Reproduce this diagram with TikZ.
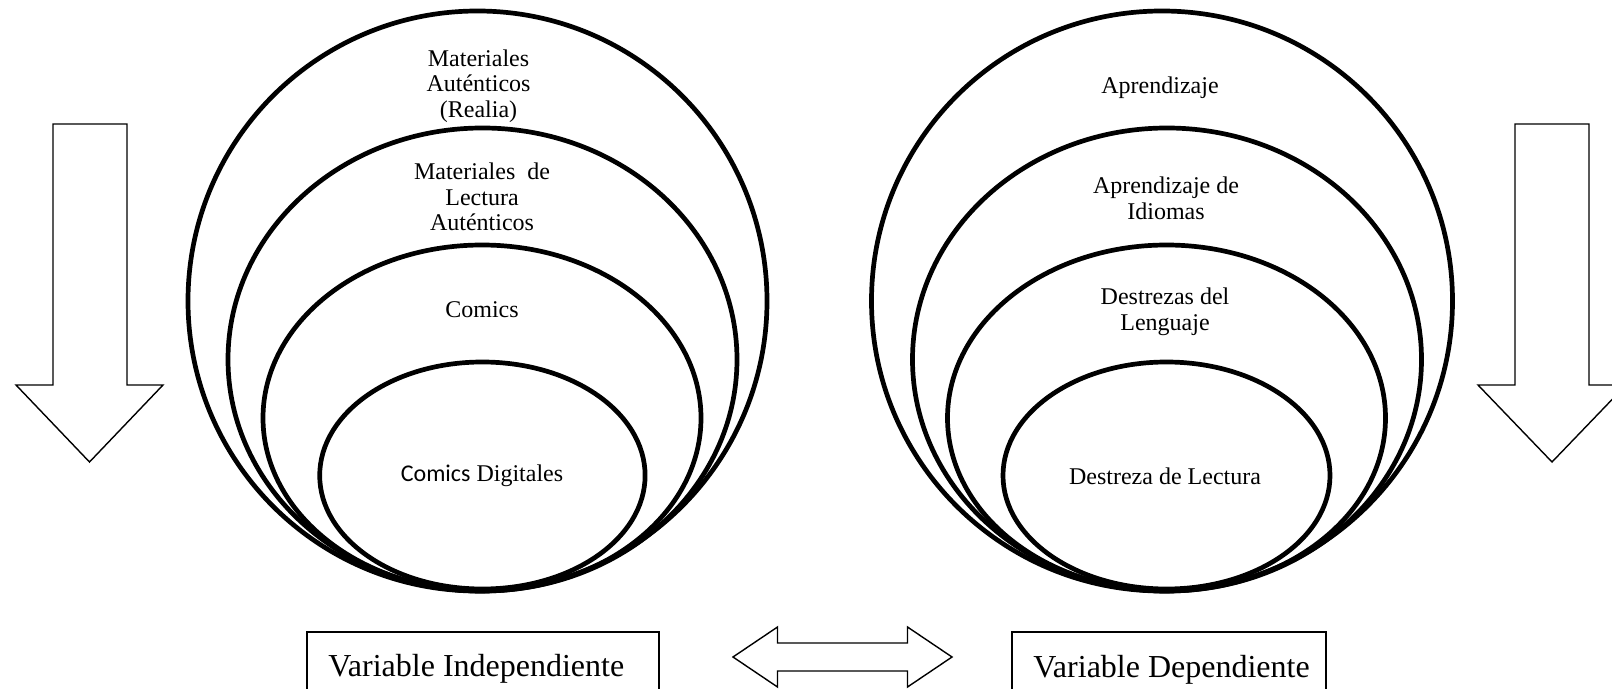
\documentclass[tikz,border=0pt]{standalone}
\usepackage{fontspec}
\setmainfont{Liberation Serif}
\newfontfamily\calib{Carlito}
\begin{document}
\begin{tikzpicture}[x=0.5pt,y=-0.5pt,
  ring/.style={line width=2.35pt},
  lbl/.style={font=\fontsize{12}{12.8}\selectfont, align=center, inner sep=0pt},
  blockarrow/.style={draw, line width=0.7pt, line join=miter, fill=white},
  varbox/.style={draw, line width=0.7pt},
  vartext/.style={font=\fontsize{16}{19}\selectfont, inner sep=0pt, anchor=base west}]
\useasboundingbox (0,0) rectangle (1612,689);
\clip (0,0) rectangle (1612,689);

% left nested ellipses
\draw[ring] (477.5,301) ellipse [x radius=289.5, y radius=290];
\draw[ring] (482.5,359.5) ellipse [x radius=254.5, y radius=231.5];
\draw[ring] (482,418) ellipse [x radius=219, y radius=173];
\draw[ring] (482.4,475.5) ellipse [x radius=162.7, y radius=113.5];

% right nested ellipses
\draw[ring] (1162,301) ellipse [x radius=290.5, y radius=290];
\draw[ring] (1167,359.5) ellipse [x radius=254.5, y radius=231.5];
\draw[ring] (1166.5,418) ellipse [x radius=219, y radius=173];
\draw[ring] (1166.5,475.5) ellipse [x radius=163.5, y radius=113.5];

% left labels
\node[lbl] (l1) at (478.5,86) {Materiales\\Auténticos\\(Realia)};
\node[lbl] (l2) at (482,197) {Materiales\ \ de\\Lectura\\Auténticos};
\node[lbl] (l3) at (482,310) {Comics};
\node[lbl] (l4) at (482,476) {{\calib Comics} Digitales};

% right labels
\node[lbl] (r1) at (1160,88) {Aprendizaje};
\node[lbl] (r2) at (1166,198) {Aprendizaje de\\Idiomas};
\node[lbl] (r3) at (1165,312) {Destrezas del\\Lenguaje};
\node[lbl] (r4) at (1165,476) {Destreza de Lectura};

% down arrows
\draw[blockarrow] (53,124) -- (127,124) -- (127,385) -- (163,385) -- (89.5,462) -- (16,385) -- (53,385) -- cycle;
\draw[blockarrow] (1515,124) -- (1589,124) -- (1589,385) -- (1626,385) -- (1552,462) -- (1478,385) -- (1515,385) -- cycle;

% variable boxes
\draw[varbox] (307,632) rectangle (659,700);
\node[vartext] (vi) at (328,676) {Variable Independiente};
\draw[varbox] (1012,632) rectangle (1326,700);
\node[vartext] (vd) at (1033,677) {Variable Dependiente};

% double arrow
\draw[blockarrow] (733,657) -- (777.5,627) -- (777.5,643) -- (907.5,643) -- (907.5,627) -- (952,657) -- (907.5,687) -- (907.5,671) -- (777.5,671) -- (777.5,687) -- cycle;
\end{tikzpicture}
\end{document}
